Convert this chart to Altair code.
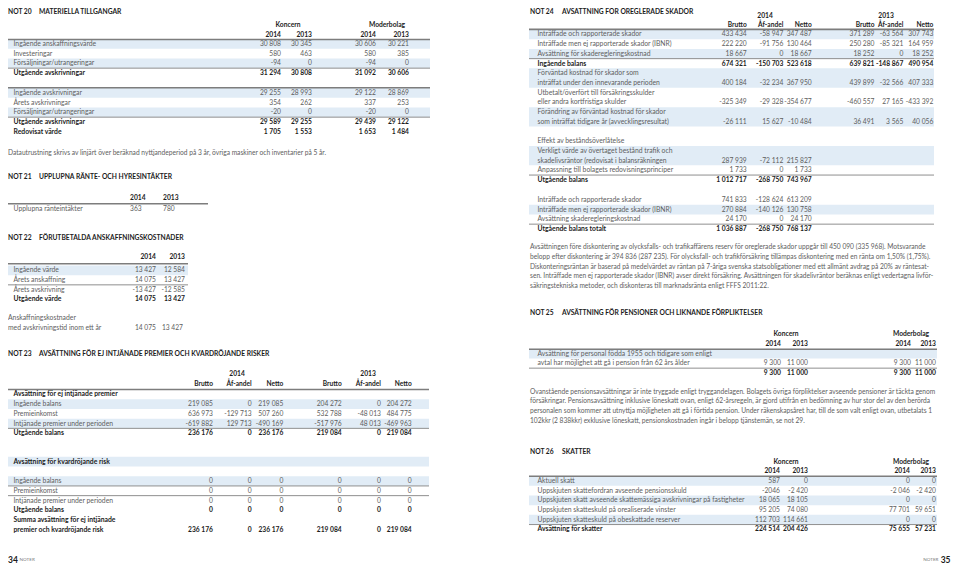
import altair as alt
import pandas as pd

# ======================= DATA (text and values read from the page) =======================
years2 = ["2014", "2013"]
groups = ["Koncern", "Moderbolag"]
sub3 = ["Brutto", "Åf-andel", "Netto"]

# NOT 20
n20_title = ["NOT 20", "MATERIELLA TILLGÅNGAR"]
n20_rows_a = ["Ingående anskaffningsvärde", "Investeringar", "Försäljningar/utrangeringar", "Utgående avskrivningar"]
n20_vals_a = [["30 808", "30 345", "30 606", "30 221"],
              ["580", "463", "580", "385"],
              ["-94", "0", "-94", "0"],
              ["31 294", "30 808", "31 092", "30 606"]]
n20_rows_b = ["Ingående avskrivningar", "Årets avskrivningar", "Försäljningar/utrangeringar",
              "Utgående avskrivningar", "Redovisat värde"]
n20_vals_b = [["29 255", "28 993", "29 122", "28 869"],
              ["354", "262", "337", "253"],
              ["-20", "0", "-20", "0"],
              ["29 589", "29 255", "29 439", "29 122"],
              ["1 705", "1 553", "1 653", "1 484"]]
n20_note = "Datautrustning skrivs av linjärt över beräknad nyttjandeperiod på 3 år, övriga maskiner och inventarier på 5 år."

# NOT 21
n21_title = ["NOT 21", "UPPLUPNA RÄNTE- OCH HYRESINTÄKTER"]
n21_rows = ["Upplupna ränteintäkter"]
n21_vals = [["363", "780"]]

# NOT 22
n22_title = ["NOT 22", "FÖRUTBETALDA ANSKAFFNINGSKOSTNADER"]
n22_rows = ["Ingående värde", "Årets anskaffning", "Årets avskrivning", "Utgående värde"]
n22_vals = [["13 427", "12 584"], ["14 075", "13 427"], ["-13 427", "-12 585"], ["14 075", "13 427"]]
n22_extra = ["Anskaffningskostnader", "med avskrivningstid inom ett år"]
n22_extra_vals = ["14 075", "13 427"]

# NOT 23
n23_title = ["NOT 23", "AVSÄTTNING FÖR EJ INTJÄNADE PREMIER OCH KVARDRÖJANDE RISKER"]
n23_rows_a = ["Avsättning för ej intjänade premier", "Ingående balans", "Premieinkomst",
              "Intjänade premier under perioden", "Utgående balans"]
n23_vals_a = [[],
              ["219 085", "0", "219 085", "204 272", "0", "204 272"],
              ["636 973", "-129 713", "507 260", "532 788", "-48 013", "484 775"],
              ["-619 882", "129 713", "-490 169", "-517 976", "48 013", "-469 963"],
              ["236 176", "0", "236 176", "219 084", "0", "219 084"]]
n23_head_b = "Avsättning för kvardröjande risk"
n23_rows_b = ["Ingående balans", "Premieinkomst", "Intjänade premier under perioden", "Utgående balans",
              ["Summa avsättning för ej intjänade", "premier och kvardröjande risk"]]
n23_vals_b = [["0", "0", "0", "0", "0", "0"],
              ["0", "0", "0", "0", "0", "0"],
              ["0", "0", "0", "0", "0", "0"],
              ["0", "0", "0", "0", "0", "0"],
              ["236 176", "0", "236 176", "219 084", "0", "219 084"]]

# NOT 24
n24_title = ["NOT 24", "AVSÄTTNING FÖR OREGLERADE SKADOR"]
n24_rows_a = ["Inträffade och rapporterade skador",
              "Inträffade men ej rapporterade skador (IBNR)",
              "Avsättning för skaderegleringskostnad",
              "Ingående balans",
              ["Förväntad kostnad för skador som", "inträffat under den innevarande perioden"],
              ["Utbetalt/överfört till försäkringsskulder", "eller andra kortfristiga skulder"],
              ["Förändring av förväntad kostnad för skador", "som inträffat tidigare år (avvecklingsresultat)"],
              "",
              "Effekt av beståndsöverlåtelse",
              ["Verkligt värde av övertaget bestånd trafik och", "skadelivsräntor (redovisat i balansräkningen"],
              "Anpassning till bolagets redovisningsprinciper",
              "Utgående balans"]
n24_vals_a = [["433 434", "-58 947", "347 487", "371 289", "-63 564", "307 743"],
              ["222 220", "-91 756", "130 464", "250 280", "-85 321", "164 959"],
              ["18 667", "0", "18 667", "18 252", "0", "18 252"],
              ["674 321", "-150 703", "523 618", "639 821", "-148 867", "490 954"],
              ["400 184", "-32 234", "367 950", "439 899", "-32 566", "407 333"],
              ["-325 349", "-29 328", "-354 677", "-460 557", "27 165", "-433 392"],
              ["-26 111", "15 627", "-10 484", "36 491", "3 565", "40 056"],
              [],
              [],
              ["287 939", "-72 112", "215 827"],
              ["1 733", "0", "1 733"],
              ["1 012 717", "-268 750", "743 967"]]
n24_rows_b = ["Inträffade och rapporterade skador", "Inträffade men ej rapporterade skador (IBNR)",
              "Avsättning skaderegleringskostnad", "Utgående balans totalt"]
n24_vals_b = [["741 833", "-128 624", "613 209"],
              ["270 884", "-140 126", "130 758"],
              ["24 170", "0", "24 170"],
              ["1 036 887", "-268 750", "768 137"]]
n24_text = ["Avsättningen före diskontering av olycksfalls- och trafikaffärens reserv för oreglerade skador uppgår till 450 090 (335 968). Motsvarande",
            "belopp efter diskontering är 394 836 (287 235). För olycksfall- och trafikförsäkring tillämpas diskontering med en ränta om 1,50% (1,75%).",
            "Diskonteringsräntan är baserad på medelvärdet av räntan på 7-åriga svenska statsobligationer med ett allmänt avdrag på 20% av räntesat-",
            "sen. Inträffade men ej rapporterade skador (IBNR) avser direkt försäkring. Avsättningen för skadelivräntor beräknas enligt vedertagna livför-",
            "säkringstekniska metoder, och diskonteras till marknadsränta enligt FFFS 2011:22."]

# NOT 25
n25_title = ["NOT 25", "AVSÄTTNING FÖR PENSIONER OCH LIKNANDE FÖRPLIKTELSER"]
n25_rows = [["Avsättning för personal födda 1955 och tidigare som enligt",
             "avtal har möjlighet att gå i pension från 62 års ålder"], ""]
n25_vals = [["9 300", "11 000", "9 300", "11 000"], ["9 300", "11 000", "9 300", "11 000"]]
n25_text = ["Ovanstående pensionsavsättningar är inte tryggade enligt tryggandelagen. Bolagets övriga förpliktelser avseende pensioner är täckta genom",
            "försäkringar. Pensionsavsättning inklusive löneskatt ovan, enligt 62-årsregeln, är gjord utifrån en bedömning av hur stor del av den berörda",
            "personalen som kommer att utnyttja möjligheten att gå i förtida pension. Under räkenskapsåret har, till de som valt enligt ovan, utbetalats 1",
            "102kkr (2 838kkr) exklusive löneskatt, pensionskostnaden ingår i belopp tjänstemän, se not 29."]

# NOT 26
n26_title = ["NOT 26", "SKATTER"]
n26_rows = ["Aktuell skatt", "Uppskjuten skattefordran avseende pensionsskuld",
            "Uppskjuten skatt avseende skattemässiga avskrivningar på fastigheter",
            "Uppskjuten skatteskuld på orealiserade vinster", "Uppskjuten skatteskuld på obeskattade reserver",
            "Avsättning för skatter"]
n26_vals = [["587", "0", "0", "0"],
            ["-2046", "-2 420", "-2 046", "-2 420"],
            ["18 065", "18 105", "0", "0"],
            ["95 205", "74 080", "77 701", "59 651"],
            ["112 703", "114 661", "0", "0"],
            ["224 514", "204 426", "75 655", "57 231"]]

page_left = ["34", "NOTER"]
page_right = ["NOTER", "35"]

# ======================= LAYOUT / STYLE =======================
FONT = "Lato"
FS = 6.8          # regular table labels
FSB = 6.8         # bold table labels
FSN = 6.7         # table numbers
FSH = 6.7         # column headers
FSS = 6.6         # Brutto / Åf-andel / Netto headers
FSP = 6.65        # running paragraph text
FS_T = 6.7        # note heading size
ROW = 9.7         # row pitch
REG = "#5e5e5e"
BLK = "#1c1c1c"
BAND = "#e1ecf6"
RULE_DARK = "#7d7d7d"
RULE_LIGHT = "#8f8f8f"

texts, bands, rules = [], [], []


def T(x, y, s, align="left", bold=False, color=None, size=None):
    if s == "":
        return
    texts.append(dict(x=x, y=y, t=s, align=align, bold=bold,
                      c=color or (BLK if bold else REG), s=size or (FSB if bold else FS)))


def band(x0, x1, y0, y1):
    bands.append(dict(x=x0, x2=x1, y=y0, y2=y1))


def rule(x0, x1, y, w=1.0, color=RULE_LIGHT):
    rules.append(dict(x=x0, x2=x1, y=y, w=w, c=color))


def title(x, y, parts, gap=33):
    T(x, y, parts[0], bold=True, color=BLK, size=FS_T)
    T(x + gap, y, parts[1], bold=True, color=BLK, size=FS_T)


def block(rows, vals, y0, lx, cols, bx, bands_at=(), bold_at=(), rule_after=()):
    y = y0
    for i, lab in enumerate(rows):
        lines = lab if isinstance(lab, list) else [lab]
        n = len(lines)
        if i in bands_at:
            band(bx[0], bx[1], y - ROW / 2, y + (n - 1) * ROW + ROW / 2)
        for k, ln in enumerate(lines):
            T(lx, y + k * ROW, ln, bold=i in bold_at)
        yv = y + (n - 1) * ROW
        for cx, v in zip(cols, vals[i]):
            T(cx, yv, v, "right", bold=i in bold_at, size=FSN)
        y += n * ROW
        if i in rule_after:
            rule(bx[0], bx[1], y - ROW / 2)
    return y


# ---------- left page (page pixels; left edge clamped to the 8px page margin) ----------
LX0, LLAB = 8, 13.5
# NOT 20
title(LX0, 11.5, n20_title, gap=31)
c20 = [281, 312, 376, 409]
T(288, 25, groups[0], "center", True, size=FSH)
T(387, 25, groups[1], "center", True, size=FSH)
for cx, yr in zip(c20, years2 * 2):
    T(cx, 34.5, yr, "right", True, size=FSH)
rule(LX0, 430, 39.5, 1.6, RULE_DARK)
block(n20_rows_a, n20_vals_a, 43.9, LLAB, c20, (LX0, 430), bands_at=(0, 2), bold_at=(3,), rule_after=(2,))
rule(LX0, 430, 87.8, 1.6, RULE_DARK)
block(n20_rows_b, n20_vals_b, 92.9, LLAB, c20, (LX0, 430), bands_at=(0, 2), bold_at=(3, 4), rule_after=(2,))
T(LX0, 152.7, n20_note, size=FSP)

# NOT 21
title(LX0, 177, n21_title, gap=31)
T(130, 198.3, years2[0], "left", True, size=FSH)
T(163, 198.3, years2[1], "left", True, size=FSH)
rule(LX0, 208, 203.7, 1.6, RULE_DARK)
T(LLAB, 209.2, n21_rows[0])
T(130, 209.2, n21_vals[0][0], size=FSN)
T(163, 209.2, n21_vals[0][1], size=FSN)

# NOT 22
title(LX0, 237.7, n22_title, gap=31)
c22 = [156, 185]
for cx, yr in zip(c22, years2):
    T(cx, 257.3, yr, "right", True, size=FSH)
rule(LX0, 188, 263.7, 1.6, RULE_DARK)
block(n22_rows, n22_vals, 270.3, LLAB, c22, (LX0, 188), bands_at=(0,), bold_at=(3,), rule_after=(1,))
T(LX0, 318, n22_extra[0])
T(LX0, 327.5, n22_extra[1])
T(c22[0], 327.5, n22_extra_vals[0], "right", size=FSN)
T(c22[1] - 2, 327.5, n22_extra_vals[1], "right", size=FSN)

# NOT 23
title(LX0, 353.7, n23_title, gap=31)
c23 = [213, 251.7, 283.3, 341.7, 381, 411.7]
T(237, 374.3, years2[0], "center", True, size=FSH)
T(368, 374.3, years2[1], "center", True, size=FSH)
for cx, s in zip(c23, sub3 * 2):
    T(cx, 384.2, s, "right", True, size=FSS)
rule(LX0, 429, 389.5, 1.6, RULE_DARK)
block(n23_rows_a, n23_vals_a, 394.4, LLAB, c23, (LX0, 429), bands_at=(1, 3), bold_at=(0, 4), rule_after=(3,))
band(LX0, 429, 461.7 - ROW / 2, 461.7 + ROW / 2)
T(LLAB, 461.7, n23_head_b, bold=True)
block(n23_rows_b, n23_vals_b, 481.1, LLAB, c23, (LX0, 429), bands_at=(0,), bold_at=(3, 4), rule_after=(0, 1))

T(LX0, 559.5, page_left[0], bold=True, color=BLK, size=8.5)
T(19.5, 560, page_left[1], color="#777777", size=4.6)

# ---------- right page ----------
RX0, RLAB, RX1 = 530, 537.5, 934
title(RX0, 11.5, n24_title, gap=32)
c24 = [746.7, 783.3, 811.7, 874.5, 903.3, 933.3]
T(765, 15.5, years2[0], "center", True, size=FSH)
T(886, 15.5, years2[1], "center", True, size=FSH)
for cx, s in zip(c24, sub3 * 2):
    T(cx, 24.5, s, "right", True, size=FSS)
rule(RX0 - 1, RX1, 29.4, 1.6, RULE_DARK)
block(n24_rows_a, n24_vals_a, 34.4, RLAB, c24, (RX0 - 1, RX1), bands_at=(0, 2, 4, 6, 9),
      bold_at=(3, 11), rule_after=(2, 10))
block(n24_rows_b, n24_vals_b, 199.9, RLAB, c24, (RX0 - 1, RX1), bands_at=(1,), bold_at=(3,), rule_after=(2,))
for i, ln in enumerate(n24_text):
    T(RX0, 247.3 + i * 9.65, ln, size=FSP)

# NOT 25
title(RX0, 312.7, n25_title, gap=32)
c25 = [781, 808, 911, 936]
T(786, 333.7, groups[0], "center", True, size=FSH)
T(911, 333.7, groups[1], "center", True, size=FSH)
for cx, yr in zip(c25, years2 * 2):
    T(cx, 343.7, yr, "right", True, size=FSH)
rule(RX0 - 1, 937, 349.2, 1.6, RULE_DARK)
band(RX0 - 1, 937, 353.6 - ROW / 2, 353.6 + ROW / 2)
block(n25_rows, n25_vals, 353.6, RLAB, c25, (RX0 - 1, 937), bold_at=(1,), rule_after=(0,))
for i, ln in enumerate(n25_text):
    T(RX0, 391.7 + i * 9.6, ln, size=FSP)

# NOT 26
c26 = [780, 808, 910, 936]
title(RX0, 451.7, n26_title, gap=32)
T(786, 461.7, groups[0], "center", True, size=FSH)
T(911, 461.7, groups[1], "center", True, size=FSH)
for cx, yr in zip(c26, years2 * 2):
    T(cx, 470.6, yr, "right", True, size=FSH)
rule(RX0 - 1, 937, 476.2, 1.6, RULE_DARK)
block(n26_rows, n26_vals, 480.9, RLAB, c26, (RX0 - 1, 937), bands_at=(0, 2, 4), bold_at=(5,), rule_after=(4,))

T(938.5, 560, page_right[0], "right", color="#777777", size=4.6)
T(950.5, 559.5, page_right[1], "right", bold=True, color=BLK, size=8.5)

# ======================= CHART =======================
# scales map page pixels 1:1 onto the plot area (which starts at the 8px page margin)
XS = alt.Scale(domain=[8, 951], nice=False, zero=False)
YS = alt.Scale(domain=[8, 565], nice=False, zero=False, reverse=True)

band_df = pd.DataFrame(bands)
rule_df = pd.DataFrame(rules)
text_df = pd.DataFrame(texts)

band_layer = alt.Chart(band_df).mark_rect(color=BAND).encode(
    x=alt.X("x:Q", scale=XS, axis=None), x2="x2:Q",
    y=alt.Y("y:Q", scale=YS, axis=None), y2="y2:Q")

rule_layer = alt.Chart(rule_df).mark_rule().encode(
    x=alt.X("x:Q", scale=XS, axis=None), x2="x2:Q",
    y=alt.Y("y:Q", scale=YS, axis=None),
    color=alt.Color("c:N", scale=None),
    size=alt.Size("w:Q", scale=None))

layers = [band_layer, rule_layer]
for al in ["left", "right", "center"]:
    for b in [False, True]:
        sub = text_df[(text_df["align"] == al) & (text_df["bold"] == b)]
        if len(sub) == 0:
            continue
        layers.append(
            alt.Chart(sub).mark_text(align=al, baseline="middle", font=FONT,
                                     fontWeight="bold" if b else "normal").encode(
                x=alt.X("x:Q", scale=XS, axis=None),
                y=alt.Y("y:Q", scale=YS, axis=None),
                text="t:N",
                color=alt.Color("c:N", scale=None),
                size=alt.Size("s:Q", scale=None)))

chart = alt.layer(*layers).properties(
    width=943, height=557, padding=0, autosize=alt.AutoSizeParams(type="none"),
    background="white"
).configure_view(stroke=None)

chart.save("out.html", embed_options={"renderer": "svg", "actions": False})
